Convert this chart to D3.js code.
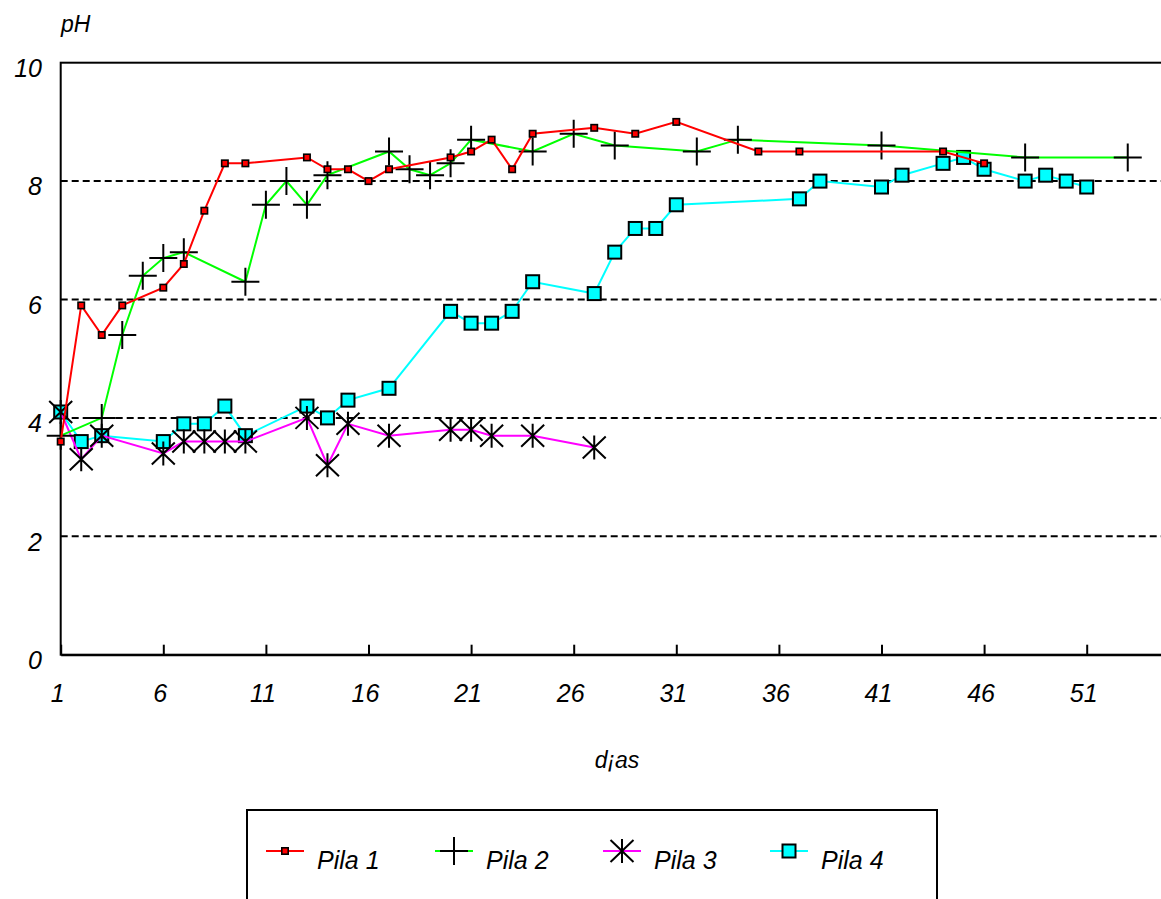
<!DOCTYPE html>
<html>
<head>
<meta charset="utf-8">
<script src="https://cdn.jsdelivr.net/npm/d3@7"></script>
<style>
  html, body { margin: 0; padding: 0; background: #fff; }
  svg { display: block; }
  text { font-family: "Liberation Sans", Arial, sans-serif; font-style: italic; fill: #000; }
</style>
</head>
<body>
<svg id="chart" width="1161" height="899"></svg>
<script>
// pH readings per pile, by day
const pila1Days = [1, 2, 3, 4, 6, 7, 8, 9, 10, 13, 14, 15, 16, 17, 20, 21, 22, 23, 24, 27, 29, 31, 35, 37, 44, 46];
const pila1Ph   = [3.6, 5.9, 5.4, 5.9, 6.2, 6.6, 7.5, 8.3, 8.3, 8.4, 8.2, 8.2, 8.0, 8.2, 8.4, 8.5, 8.7, 8.2, 8.8, 8.9, 8.8, 9.0, 8.5, 8.5, 8.5, 8.3];

const pila2Days = [1, 3, 4, 5, 6, 7, 10, 11, 12, 13, 14, 17, 18, 19, 20, 21, 24, 26, 28, 32, 34, 41, 48, 53];
const pila2Ph   = [3.7, 4.0, 5.4, 6.4, 6.7, 6.8, 6.3, 7.6, 8.0, 7.6, 8.1, 8.5, 8.2, 8.1, 8.3, 8.7, 8.5, 8.8, 8.6, 8.5, 8.7, 8.6, 8.4, 8.4];

const pila3Days = [1, 2, 3, 6, 7, 8, 9, 10, 13, 14, 15, 17, 20, 21, 22, 24, 27];
const pila3Ph   = [4.1, 3.3, 3.7, 3.4, 3.6, 3.6, 3.6, 3.6, 4.0, 3.2, 3.9, 3.7, 3.8, 3.8, 3.7, 3.7, 3.5];

const pila4Days = [1, 2, 3, 6, 7, 8, 9, 10, 13, 14, 15, 17, 20, 21, 22, 23, 24, 27, 28, 29, 30, 31, 37, 38, 41, 42, 44, 45, 46, 48, 49, 50, 51];
const pila4Ph   = [4.1, 3.6, 3.7, 3.6, 3.9, 3.9, 4.2, 3.7, 4.2, 4.0, 4.3, 4.5, 5.8, 5.6, 5.6, 5.8, 6.3, 6.1, 6.8, 7.2, 7.2, 7.6, 7.7, 8.0, 7.9, 8.1, 8.3, 8.4, 8.2, 8.0, 8.1, 8.0, 7.9];

const seriesNames = ["Pila 1", "Pila 2", "Pila 3", "Pila 4"];
const xTicks = [1, 6, 11, 16, 21, 26, 31, 36, 41, 46, 51];
const yTicks = [0, 2, 4, 6, 8, 10];
const gridValues = [2, 4, 6, 8];
const xTitle = "d¡as";
const yTitle = "pH";

const svg = d3.select("#chart");

const x = d3.scaleLinear().domain([1, 55]).range([60.7, 60.7 + 54 * 20.52]);
const y = d3.scaleLinear().domain([0, 10]).range([654.7, 62.7]);

const series = [
  { name: seriesNames[0], days: pila1Days, ph: pila1Ph, color: "#ff0000", marker: "smallSquare" },
  { name: seriesNames[1], days: pila2Days, ph: pila2Ph, color: "#00ff00", marker: "plus" },
  { name: seriesNames[2], days: pila3Days, ph: pila3Ph, color: "#ff00ff", marker: "star" },
  { name: seriesNames[3], days: pila4Days, ph: pila4Ph, color: "#00ffff", marker: "bigSquare" }
];

// dashed horizontal grid
svg.append("g")
  .selectAll("line")
  .data(gridValues)
  .join("line")
  .attr("x1", x.range()[0]).attr("x2", x.range()[1])
  .attr("y1", d => y(d)).attr("y2", d => y(d))
  .attr("stroke", "#000").attr("stroke-width", 2)
  .attr("stroke-dasharray", "7,4");

// frame
svg.append("rect")
  .attr("x", x.range()[0]).attr("y", y(10))
  .attr("width", x.range()[1] - x.range()[0])
  .attr("height", y(0) - y(10))
  .attr("fill", "none").attr("stroke", "#000").attr("stroke-width", 2);

// x axis with inward ticks
const xAxis = d3.axisBottom(x).tickValues(xTicks).tickSizeInner(-10).tickSizeOuter(0).tickFormat("");
const gx = svg.append("g").attr("transform", `translate(0,${y(0)})`).call(xAxis);
gx.select(".domain").attr("stroke", "#000").attr("stroke-width", 2);
gx.selectAll(".tick line").attr("stroke", "#000").attr("stroke-width", 2);

svg.append("g")
  .selectAll("text")
  .data(xTicks)
  .join("text")
  .attr("x", d => x(d) - 3)
  .attr("y", 701.5)
  .attr("text-anchor", "middle")
  .attr("font-size", 25)
  .text(d => d);

// y axis labels
svg.append("g")
  .selectAll("text")
  .data(yTicks)
  .join("text")
  .attr("x", 42)
  .attr("y", d => y(d) + 14.3)
  .attr("text-anchor", "end")
  .attr("font-size", 25)
  .text(d => d);

svg.append("text").attr("x", 61).attr("y", 31.5).attr("font-size", 23).text(yTitle);
svg.append("text").attr("x", 617).attr("y", 768).attr("text-anchor", "middle").attr("font-size", 23).text(xTitle);

// marker drawing
function drawMarker(g, type) {
  if (type === "smallSquare") {
    g.append("rect").attr("x", -3.2).attr("y", -3.2).attr("width", 6.4).attr("height", 6.4)
      .attr("fill", "#ff0000").attr("stroke", "#000").attr("stroke-width", 1.6);
  } else if (type === "bigSquare") {
    g.append("rect").attr("x", -6.5).attr("y", -6.5).attr("width", 13).attr("height", 13)
      .attr("fill", "#00ffff").attr("stroke", "#000").attr("stroke-width", 2);
  } else if (type === "plus") {
    g.append("path").attr("d", "M-14,0H14M0,-14V14")
      .attr("stroke", "#000").attr("stroke-width", 2).attr("fill", "none");
  } else if (type === "star") {
    g.append("path").attr("d", "M0,-12V12M-11.5,-11L11.5,11M-11.5,11L11.5,-11")
      .attr("stroke", "#000").attr("stroke-width", 2).attr("fill", "none");
  }
}

const line = d3.line().x(d => x(d[0])).y(d => y(d[1]));

// last pile drawn first so Pila 1 sits on top
series.slice().reverse().forEach(s => {
  const pts = s.days.map((d, i) => [d, s.ph[i]]);
  const g = svg.append("g");
  g.append("path").datum(pts).attr("d", line)
    .attr("fill", "none").attr("stroke", s.color).attr("stroke-width", 2);
  g.selectAll("g.m").data(pts).join("g").attr("class", "m")
    .attr("transform", d => `translate(${x(d[0])},${y(d[1])})`)
    .each(function () { drawMarker(d3.select(this), s.marker); });
});

// legend
svg.append("rect").attr("x", 247).attr("y", 810).attr("width", 690).attr("height", 120)
  .attr("fill", "none").attr("stroke", "#000").attr("stroke-width", 2);

const legendX = [285, 454, 622, 789];
series.forEach((s, i) => {
  const cx = legendX[i], cy = 851;
  const g = svg.append("g");
  g.append("line").attr("x1", cx - 19).attr("x2", cx + 19).attr("y1", cy).attr("y2", cy)
    .attr("stroke", s.color).attr("stroke-width", 2);
  const m = g.append("g").attr("transform", `translate(${cx},${cy})`);
  drawMarker(m, s.marker);
  g.append("text").attr("x", cx + 32).attr("y", 869).attr("font-size", 25).text(s.name);
});
</script>
</body>
</html>
